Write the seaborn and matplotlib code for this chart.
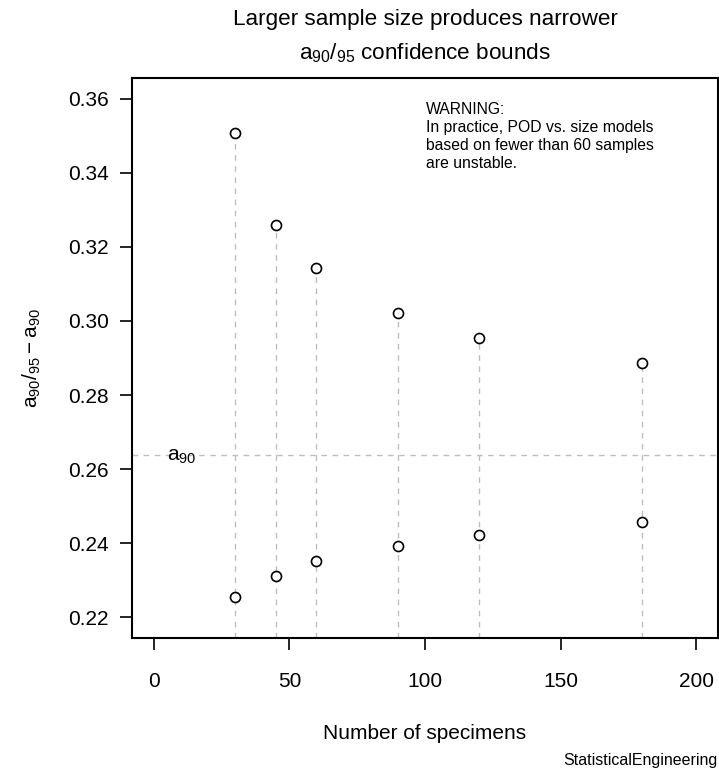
import matplotlib
matplotlib.use("Agg")
import matplotlib.pyplot as plt
import numpy as np
import pandas as pd
import seaborn as sns

# ---- data ----
n_specimens = [30, 45, 60, 90, 120, 180]
upper_bound = [0.3508, 0.3259, 0.3143, 0.3022, 0.2954, 0.2887]
lower_bound = [0.2255, 0.2311, 0.2352, 0.2392, 0.2422, 0.2457]
a90_value = 0.2638
x_ticks = [0, 50, 100, 150, 200]
y_ticks = [0.22, 0.24, 0.26, 0.28, 0.30, 0.32, 0.34, 0.36]
y_tick_labels = ["0.22", "0.24", "0.26", "0.28", "0.30", "0.32", "0.34", "0.36"]

sns.set_style("ticks")
plt.rcParams["font.family"] = ["Liberation Sans", "DejaVu Sans"]
plt.rcParams["mathtext.fontset"] = "custom"
plt.rcParams["mathtext.rm"] = "Liberation Sans"
plt.rcParams["mathtext.it"] = "Liberation Sans"
plt.rcParams["mathtext.bf"] = "Liberation Sans"
plt.rcParams["text.color"] = "black"
plt.rcParams["axes.labelcolor"] = "black"
plt.rcParams["xtick.color"] = "black"
plt.rcParams["ytick.color"] = "black"
plt.rcParams["xtick.labelcolor"] = "black"
plt.rcParams["ytick.labelcolor"] = "black"

df = pd.DataFrame({
    "n": n_specimens * 2,
    "value": upper_bound + lower_bound,
})

W, H = 719, 769
fig = plt.figure(figsize=(W / 100, H / 100), dpi=100)
ax = fig.add_axes([132 / W, 1 - 638 / H, (718 - 132) / W, (638 - 78) / H])

xlim = (-8, 208)
ylim = (0.2144, 0.3656)
ax.set_xlim(*xlim)
ax.set_ylim(*ylim)

grey = "#bebebe"
# vertical dashed lines from the bottom of the frame up to each upper bound
ax.vlines(n_specimens, ylim[0], upper_bound, colors=grey, linestyles=(0, (4, 4)), linewidth=1.0, zorder=1)
# horizontal a90 line
ax.axhline(a90_value, color=grey, linestyle=(0, (4, 4)), linewidth=1.0, zorder=1)

sns.scatterplot(data=df, x="n", y="value", ax=ax, marker="o", s=52,
                facecolor="white", edgecolor="black", linewidth=1.2, zorder=3, legend=False)

ax.text(10.5, a90_value - 0.0003, r"$\mathregular{a_{90}}$", fontsize=15, ha="center", va="center")

ax.text(100.5, 0.3592, "WARNING:\nIn practice, POD vs. size models\nbased on fewer than 60 samples\nare unstable.",
        fontsize=11.3, ha="left", va="top", linespacing=1.25)

ax.set_xticks(x_ticks)
ax.set_xticklabels([str(t) for t in x_ticks])
ax.set_yticks(y_ticks)
ax.set_yticklabels(y_tick_labels)
ax.tick_params(axis="both", length=8.5, width=1.2, color="black", labelsize=15)
ax.tick_params(axis="x", pad=16)
ax.tick_params(axis="y", pad=8)

for s in ax.spines.values():
    s.set_visible(True)
    s.set_linewidth(1.5)
    s.set_color("black")

ax.set_xlabel("Number of specimens", fontsize=15, labelpad=24)
ax.set_ylabel(r"$\mathregular{a_{90}/_{95} - a_{90}}$", fontsize=15, labelpad=18)

fig.text(425 / W, 1 - 19 / H, "Larger sample size produces narrower", fontsize=16.2, ha="center", va="center")
fig.text(425 / W, 1 - 53 / H, r"$\mathregular{a_{90}/_{95}}$ confidence bounds", fontsize=16.2, ha="center", va="center")

fig.text(718 / W, 1 - 760 / H, "StatisticalEngineering", fontsize=11.5, ha="right", va="center")

fig.savefig("out.png", dpi=100)
